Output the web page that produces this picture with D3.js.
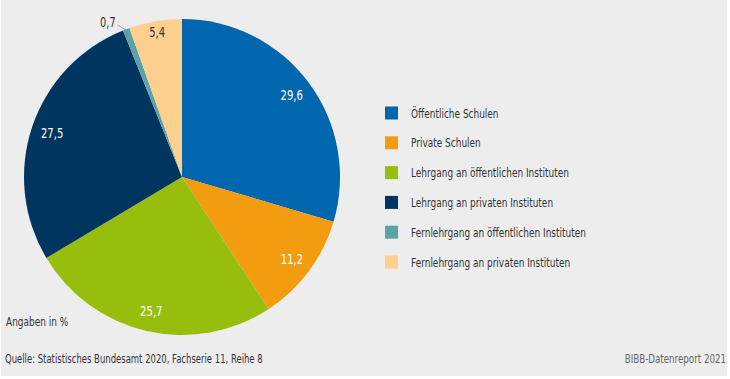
<!DOCTYPE html>
<html><head><meta charset="utf-8">
<script src="https://cdn.jsdelivr.net/npm/d3@7/dist/d3.min.js"></script>
<style>
html,body{margin:0;padding:0;background:#fff;}
svg{display:block;}
text{font-family:"DejaVu Sans",sans-serif;}
</style></head>
<body>
<script>
const categories = ["Öffentliche Schulen","Private Schulen","Lehrgang an öffentlichen Instituten","Lehrgang an privaten Instituten","Fernlehrgang an öffentlichen Instituten","Fernlehrgang an privaten Instituten"];
const values = [29.6, 11.2, 25.7, 27.5, 0.7, 5.4];
const valueLabels = ["29,6","11,2","25,7","27,5","0,7","5,4"];
const colors = ["#0066ae","#f39c0f","#97be0d","#00355f","#5da2a6","#fdd08f"];

const W = 730, H = 379;
const svg = d3.select("body").append("svg").attr("width", W).attr("height", H);
svg.append("rect").attr("x",1).attr("y",0).attr("width",726).attr("height",376).attr("fill","#ededee");

function addText(parent, x, y, str, size, fill, anchor, sx) {
  return parent.append("text")
    .attr("transform", `translate(${x},${y}) scale(${sx || 0.69},1)`)
    .attr("text-anchor", anchor || "start")
    .attr("font-size", size).attr("fill", fill).text(str);
}

const cx = 182, cy = 177, R = 158;
const pie = d3.pie().sort(null).value(d => d)(values);
const arc = d3.arc().innerRadius(0).outerRadius(R);
const g = svg.append("g").attr("transform", `translate(${cx},${cy})`);
g.selectAll("path").data(pie).join("path")
  .attr("d", arc).attr("fill", (d,i) => colors[i]);

pie.forEach((d, i) => {
  if (i === 4) return;
  const rr = i === 5 ? 147 : 137;
  const c = d3.arc().innerRadius(rr).outerRadius(rr).centroid(d);
  addText(g, c[0], c[1] + 5, valueLabels[i], 14, i === 5 ? "#333" : "#fff", "middle", 0.72);
});

// small slice label with leader line
const s = pie[4];
const mid = (s.startAngle + s.endAngle) / 2;
const p0 = [Math.sin(mid) * (R - 1), -Math.cos(mid) * (R - 1)];
const p1 = [p0[0] - 9, p0[1] - 5];
g.append("line").attr("x1", p0[0]).attr("y1", p0[1]).attr("x2", p1[0]).attr("y2", p1[1])
  .attr("stroke", "#888").attr("stroke-width", 0.8);
addText(g, p1[0] - 2, p1[1] + 2, valueLabels[4], 13.5, "#333", "end", 0.72);

// legend
const lg = svg.append("g");
const ly = d3.scalePoint().domain(categories).range([113, 262]);
categories.forEach((c, i) => {
  lg.append("rect").attr("x", 385).attr("y", ly(c) - 6.5).attr("width", 13).attr("height", 13).attr("fill", colors[i]);
  addText(lg, 411, ly(c) + 4.5, c, 13, "#333");
});

addText(svg, 6, 326, "Angaben in %", 13, "#333");
addText(svg, 5, 363, "Quelle: Statistisches Bundesamt 2020, Fachserie 11, Reihe 8", 12.3, "#333");
addText(svg, 726, 363, "BIBB-Datenreport 2021", 12.6, "#666", "end");
</script>
</body></html>
